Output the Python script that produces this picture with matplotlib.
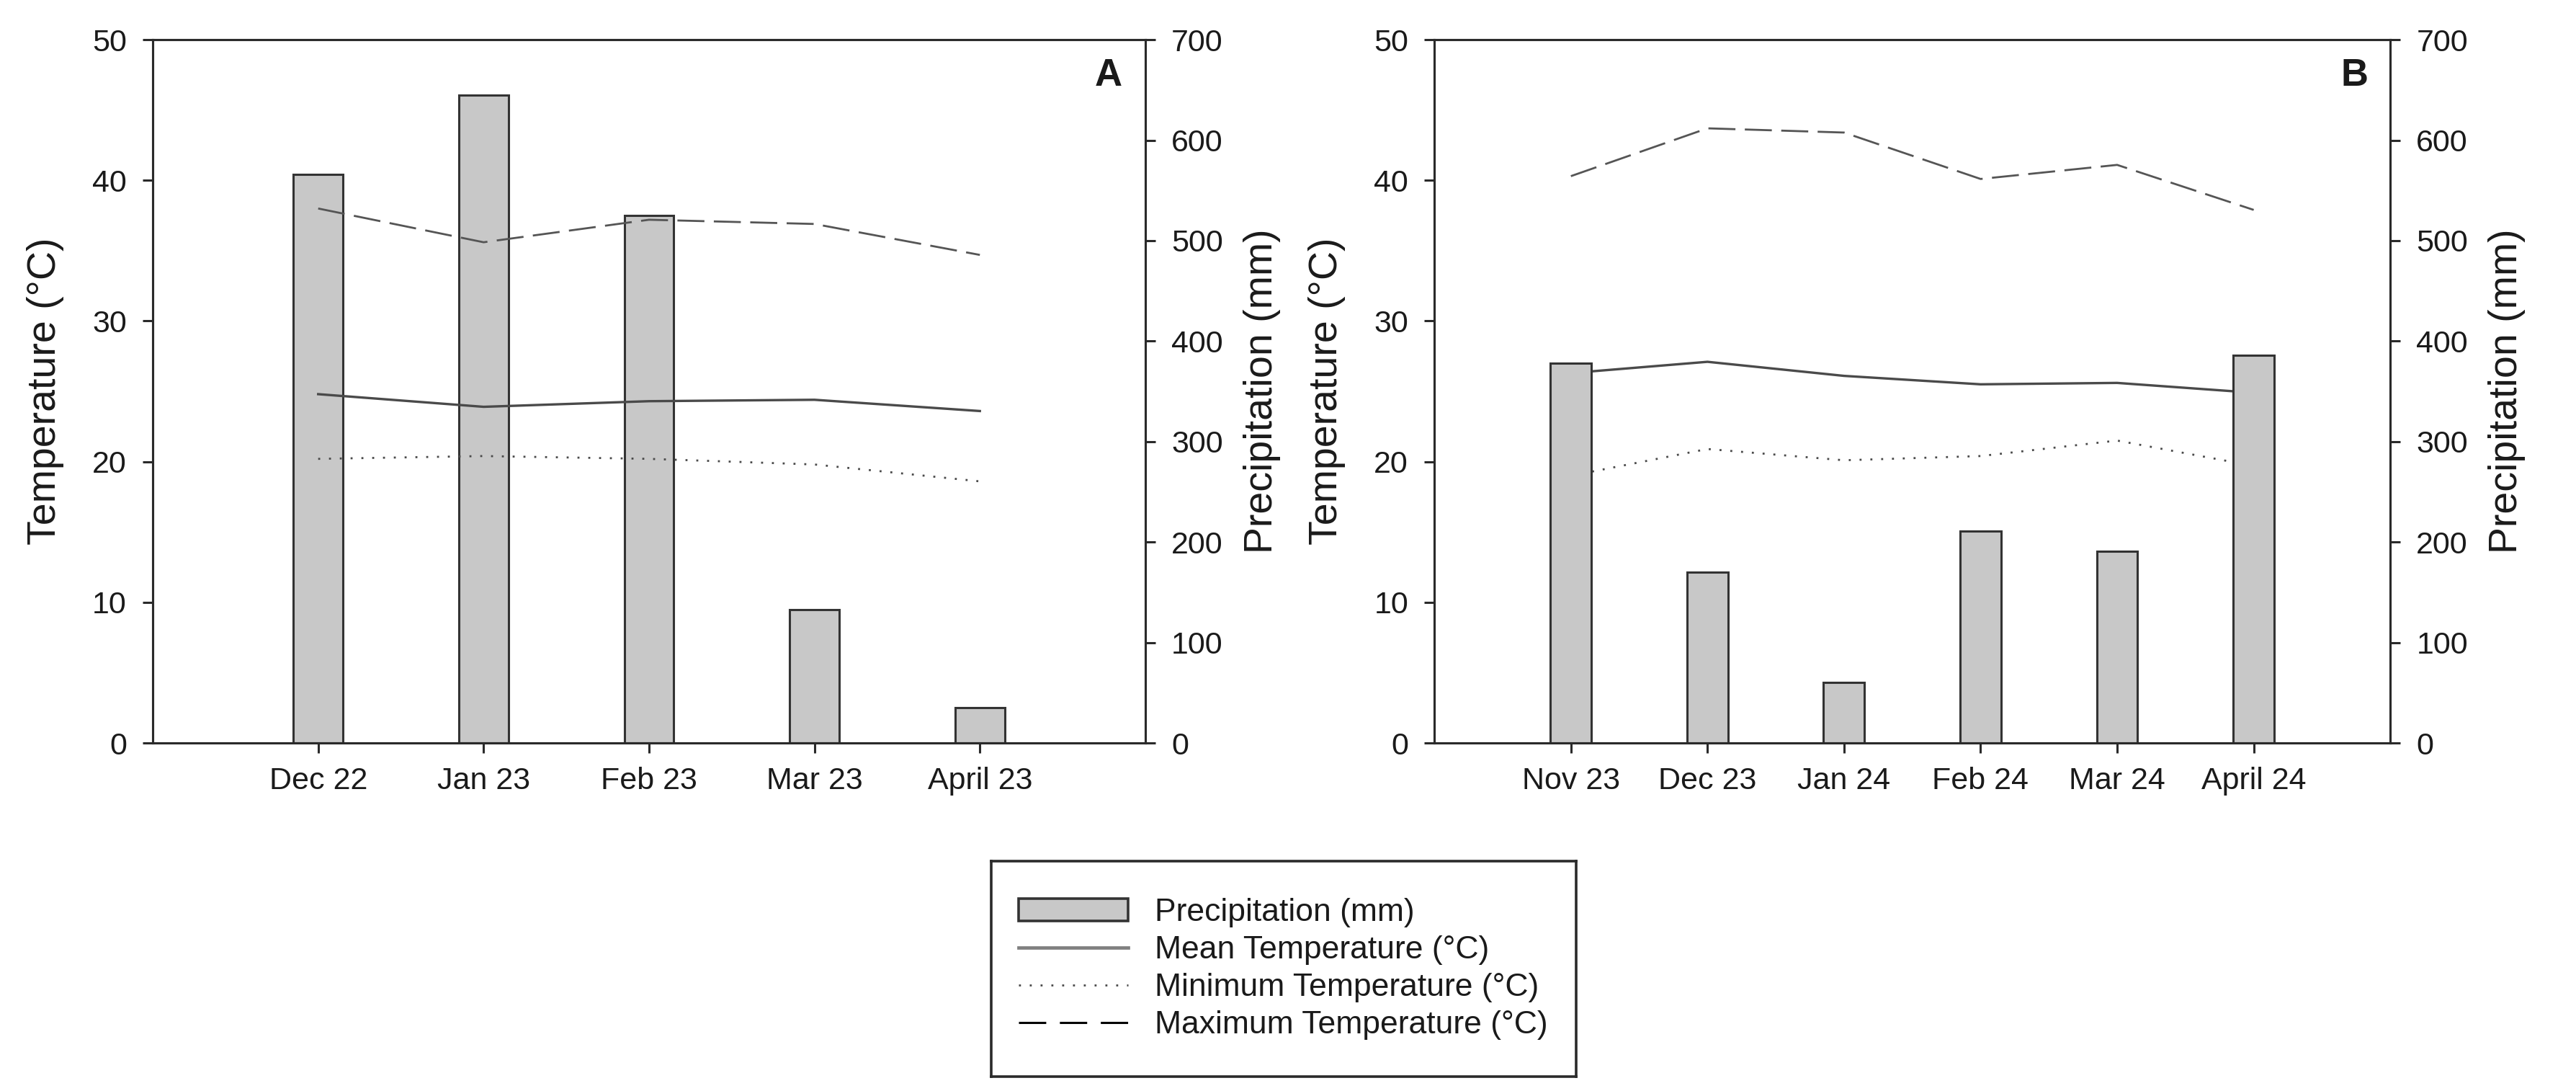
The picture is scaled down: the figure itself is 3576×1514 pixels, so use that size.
import numpy as np
import matplotlib.pyplot as plt
from matplotlib.patches import Patch
from matplotlib.lines import Line2D

plt.rcParams['font.family'] = ['Liberation Sans', 'DejaVu Sans']

# panel A data
months_a = ['Dec 22', 'Jan 23', 'Feb 23', 'Mar 23', 'April 23']
precip_a = [566, 645, 525, 133, 35]
tmean_a = [24.8, 23.9, 24.3, 24.4, 23.6]
tmin_a = [20.2, 20.4, 20.2, 19.8, 18.6]
tmax_a = [38.0, 35.6, 37.2, 36.9, 34.7]

# panel B data
months_b = ['Nov 23', 'Dec 23', 'Jan 24', 'Feb 24', 'Mar 24', 'April 24']
precip_b = [378, 170, 60, 211, 191, 386]
tmean_b = [26.3, 27.1, 26.1, 25.5, 25.6, 24.9]
tmin_b = [19.0, 20.9, 20.1, 20.4, 21.5, 19.7]
tmax_b = [40.3, 43.7, 43.4, 40.1, 41.1, 37.9]

BAR_FC = '#c8c8c8'
BAR_EC = '#333333'
LINE_C = '#4a4a4a'
TXT = '#1a1a1a'
SPINE = '#2a2a2a'
DASH = (0, (13.5, 4.7))
DOT = (0, (1, 4.4))

fig = plt.figure(figsize=(17.88, 7.57), dpi=200)


def panel(rect, months, precip, tmean, tmin, tmax, letter, lines_on_top):
    ax = fig.add_axes(rect)
    ax2 = ax.twinx()
    x = np.arange(len(months))
    ax2.bar(x, precip, width=0.3, color=BAR_FC, edgecolor=BAR_EC, linewidth=1.1)
    ax.plot(x, tmax, color='#555555', lw=1.0, linestyle=DASH)
    ax.plot(x, tmean, color=LINE_C, lw=1.2, linestyle='-')
    ax.plot(x, tmin, color=LINE_C, lw=1.0, linestyle=DOT)
    if lines_on_top:
        ax.set_zorder(ax2.get_zorder() + 1)
        ax.patch.set_visible(False)

    ax.set_xlim(-1, len(months))
    ax.set_ylim(0, 50)
    ax2.set_ylim(0, 700)
    ax.set_yticks(range(0, 51, 10))
    ax2.set_yticks(range(0, 701, 100))
    ax.set_xticks(x)
    ax.set_xticklabels(months)
    for a in (ax, ax2):
        a.tick_params(direction='out', length=5, width=1.1, labelsize=15.5,
                      colors=SPINE, labelcolor=TXT, pad=8)
        for s in a.spines.values():
            s.set_linewidth(1.1)
            s.set_color(SPINE)
    ax.tick_params(axis='x', pad=7)
    ax.set_ylabel('Temperature (°C)', fontsize=20, color=TXT, labelpad=14)
    ax2.set_ylabel('Precipitation (mm)', fontsize=20, color=TXT, labelpad=10)
    ax.text(0.977, 0.975, letter, transform=ax.transAxes, ha='right', va='top',
            fontsize=19, fontweight='bold', color=TXT)
    return ax, ax2


panel([0.0593, 0.319, 0.3853, 0.6446], months_a, precip_a, tmean_a, tmin_a, tmax_a, 'A', True)
panel([0.5568, 0.319, 0.3711, 0.6446], months_b, precip_b, tmean_b, tmin_b, tmax_b, 'B', False)

# legend box
lax = fig.add_axes([0.3848, 0.0132, 0.2271, 0.1975])
lax.set_xticks([])
lax.set_yticks([])
for s in lax.spines.values():
    s.set_linewidth(1.3)
    s.set_color(SPINE)
handles = [
    Patch(facecolor=BAR_FC, edgecolor=BAR_EC, linewidth=1.3),
    Line2D([], [], color='#808080', lw=1.7, linestyle='-'),
    Line2D([], [], color=LINE_C, lw=1.0, linestyle=(0, (1, 4.4))),
    Line2D([], [], color='black', lw=1.1, linestyle=(0, (12.4, 6.2))),
]
labels = ['Precipitation (mm)', 'Mean Temperature (°C)', 'Minimum Temperature (°C)',
          'Maximum Temperature (°C)']
leg = lax.legend(handles, labels, loc='center left', bbox_to_anchor=(0.047, 0.5), frameon=False,
                 fontsize=16, handlelength=3.42, handleheight=0.68, labelspacing=0.25,
                 handletextpad=0.83, borderpad=0, borderaxespad=0)
for t in leg.get_texts():
    t.set_color(TXT)

fig.savefig('out.png', dpi=200)
